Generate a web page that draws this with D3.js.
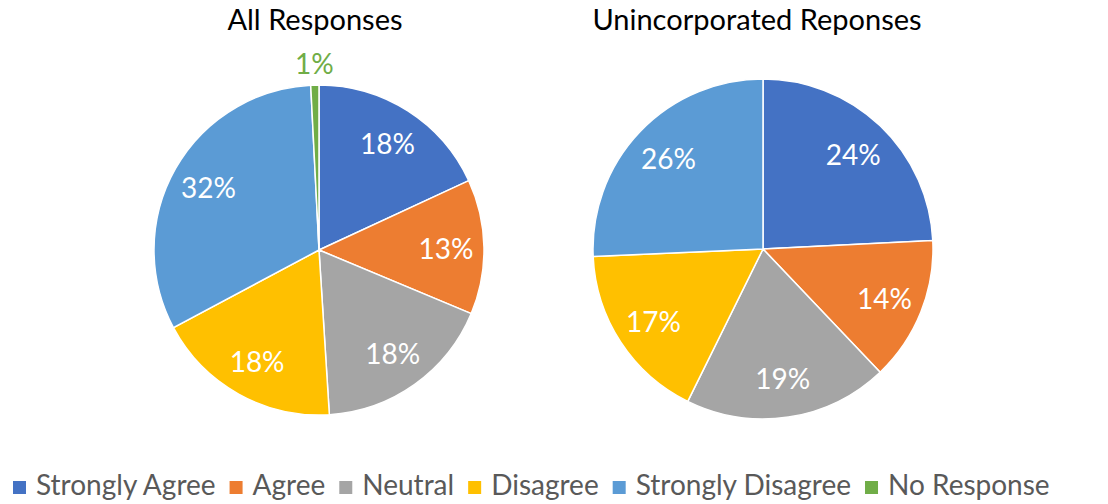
<!DOCTYPE html>
<html>
<head>
<meta charset="utf-8">
<script src="https://cdn.jsdelivr.net/npm/d3@7"></script>
<style>
  body { margin: 0; background: #fff; }
  svg { display: block; font-family: Lato, "Open Sans", sans-serif; }
</style>
</head>
<body>
<svg id="chart" width="1108" height="504"></svg>
<script>
const categories = ['Strongly Agree', 'Agree', 'Neutral', 'Disagree', 'Strongly Disagree', 'No Response'];
const colors = ['#4472C4', '#ED7D31', '#A5A5A5', '#FFC000', '#5B9BD5', '#70AD47'];
const titles = ['All Responses', 'Unincorporated Reponses'];
// percent shares
const allResponses = [18.1, 13.2, 17.7, 18.2, 32.0, 0.8];
const unincorporated = [24.2, 13.7, 19.4, 17.0, 25.7, 0];

const svg = d3.select('#chart');

const pies = [
  { title: titles[0], values: allResponses, cx: 319, cy: 250, r: 165, titleX: 315 },
  { title: titles[1], values: unincorporated, cx: 763, cy: 249, r: 170, titleX: 757 }
];

const pie = d3.pie().sort(null).value(d => d.value);

pies.forEach(p => {
  const data = categories.map((name, i) => ({ name, value: p.values[i], color: colors[i] }));
  const total = d3.sum(data, d => d.value);
  const arcs = pie(data);
  const arc = d3.arc().innerRadius(0).outerRadius(p.r);
  const labelArc = d3.arc().innerRadius(p.r * 0.77).outerRadius(p.r * 0.77);
  const outerArc = d3.arc().innerRadius(p.r + 22).outerRadius(p.r + 22);

  svg.append('text')
    .attr('x', p.titleX)
    .attr('y', 30)
    .attr('text-anchor', 'middle')
    .attr('font-size', 29)
    .attr('fill', '#000')
    .text(p.title);

  const g = svg.append('g').attr('transform', `translate(${p.cx}, ${p.cy})`);

  g.selectAll('path')
    .data(arcs.filter(a => a.value > 0))
    .enter()
    .append('path')
    .attr('d', arc)
    .attr('fill', d => d.data.color)
    .attr('stroke', '#fff')
    .attr('stroke-width', 1.5);

  g.selectAll('text')
    .data(arcs.filter(a => a.value > 0))
    .enter()
    .append('text')
    .attr('transform', d => {
      const [x, y] = d.value / total < 0.03 ? outerArc.centroid(d) : labelArc.centroid(d);
      return `translate(${x}, ${y})`;
    })
    .attr('text-anchor', 'middle')
    .attr('dominant-baseline', 'central')
    .attr('font-size', 28)
    .attr('fill', d => d.value / total < 0.03 ? d.data.color : '#fff')
    .text(d => `${Math.round(d.value / total * 100)}%`);
});

// legend
const legend = svg.append('g').attr('class', 'legend');
let x = 13;
categories.forEach((name, i) => {
  const item = legend.append('g');
  item.append('rect')
    .attr('x', x)
    .attr('y', 481)
    .attr('width', 13)
    .attr('height', 13)
    .attr('fill', colors[i]);
  const t = item.append('text')
    .attr('x', x + 23)
    .attr('y', 495)
    .attr('font-size', 28)
    .attr('fill', '#595959')
    .text(name);
  x += 23 + t.node().getComputedTextLength() + 14;
});
</script>
</body>
</html>
